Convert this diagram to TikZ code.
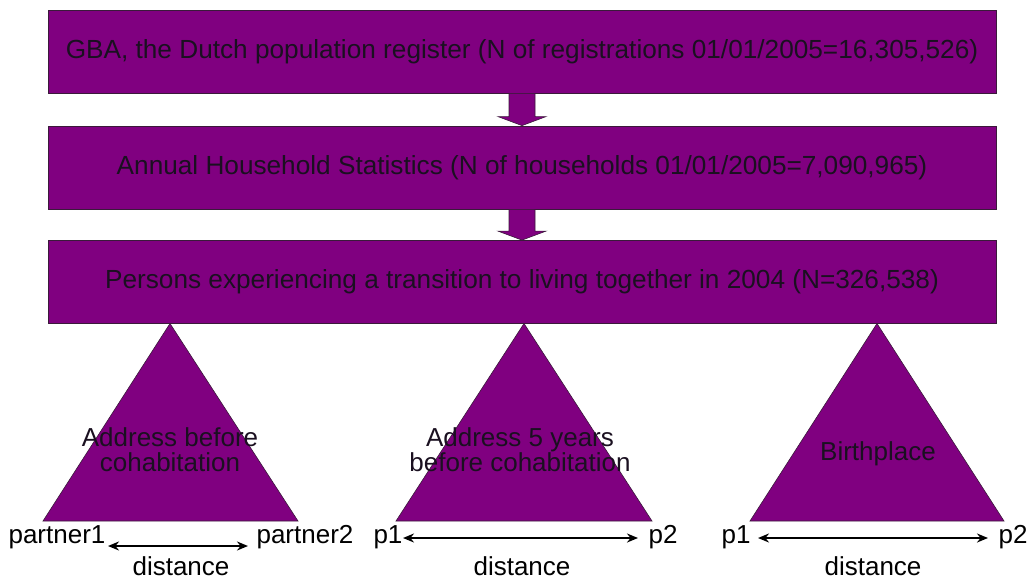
\documentclass[tikz,border=0pt]{standalone}
\usepackage{fontspec}
\setmainfont{Liberation Sans}
\usetikzlibrary{arrows.meta,calc}
\definecolor{purp}{HTML}{800080}
\definecolor{edge}{HTML}{3A1A3A}
\definecolor{ink}{HTML}{1A1020}
\begin{document}
\begin{tikzpicture}[x=1pt,y=-1pt,
  stagebox/.style={draw=edge,line width=0.8pt,fill=purp,minimum width=948pt,minimum height=83pt,inner sep=0pt,font=\fontsize{26.2}{28}\selectfont,text=ink},
  tritext/.style={font=\fontsize{26}{25}\selectfont,align=center,text=ink},
  lbl/.style={font=\fontsize{26}{28}\selectfont,anchor=base,text=black},
  tri/.style={draw=edge,line width=0.6pt,fill=purp},
  blockarrow/.style={draw=edge,line width=0.6pt,fill=purp},
  dist/.style={{Stealth[length=11pt,width=9pt]}-{Stealth[length=11pt,width=9pt]},line width=2pt,black}]
\useasboundingbox (0,0) rectangle (1031,579);
% boxes
\node[stagebox] (b1) at (522,51.5) {GBA, the Dutch population register (N of registrations 01/01/2005=16,305,526)};
\node[stagebox] (b2) at (522,167.5) {Annual Household Statistics (N of households 01/01/2005=7,090,965)};
\node[stagebox] (b3) at (522,282) {Persons experiencing a transition to living together in 2004 (N=326,538)};
% block arrows
\foreach \a/\b in {b1/b2,b2/b3}{
  \draw[blockarrow] ($(\a.south)+(-13,0)$) -- ($(\a.south)+(13,0)$) -- ($(\b.north)+(13,-9)$) -- ($(\b.north)+(24,-9)$) -- (\b.north) -- ($(\b.north)+(-24,-9)$) -- ($(\b.north)+(-13,-9)$) -- cycle;
}
% triangles
\coordinate (t1a) at (170,323.5);
\coordinate (t2a) at (524,323.5);
\coordinate (t3a) at (877,323.5);
\draw[tri] (t1a) -- (298,521) -- (43,521) -- cycle;
\draw[tri] (t2a) -- (652,521) -- (396,521) -- cycle;
\draw[tri] (t3a) -- (1004,521) -- (750,521) -- cycle;
\node[tritext] (t1) at (170,450) {Address before\\cohabitation};
\node[tritext] (t2) at (520,450) {Address 5 years\\before cohabitation};
\node[tritext] (t3) at (878,454) {Birthplace};
% bottom labels
\node[lbl] (l1) at (57,543) {partner1};
\node[lbl] (r1) at (305,543) {partner2};
\node[lbl] (l2) at (388,543) {p1};
\node[lbl] (r2) at (663,543) {p2};
\node[lbl] (l3) at (736,543) {p1};
\node[lbl] (r3) at (1013,543) {p2};
\node[lbl] (d1) at (181,575) {distance};
\node[lbl] (d2) at (522,575) {distance};
\node[lbl] (d3) at (873,575) {distance};
% distance arrows
\coordinate (a1s) at (108,546);
\coordinate (a1e) at (248,546);
\coordinate (a2s) at (403,538);
\coordinate (a2e) at (638,538);
\coordinate (a3s) at (758,538);
\coordinate (a3e) at (988,538);
\draw[dist] (a1s) -- (a1e);
\draw[dist] (a2s) -- (a2e);
\draw[dist] (a3s) -- (a3e);
\end{tikzpicture}
\end{document}
